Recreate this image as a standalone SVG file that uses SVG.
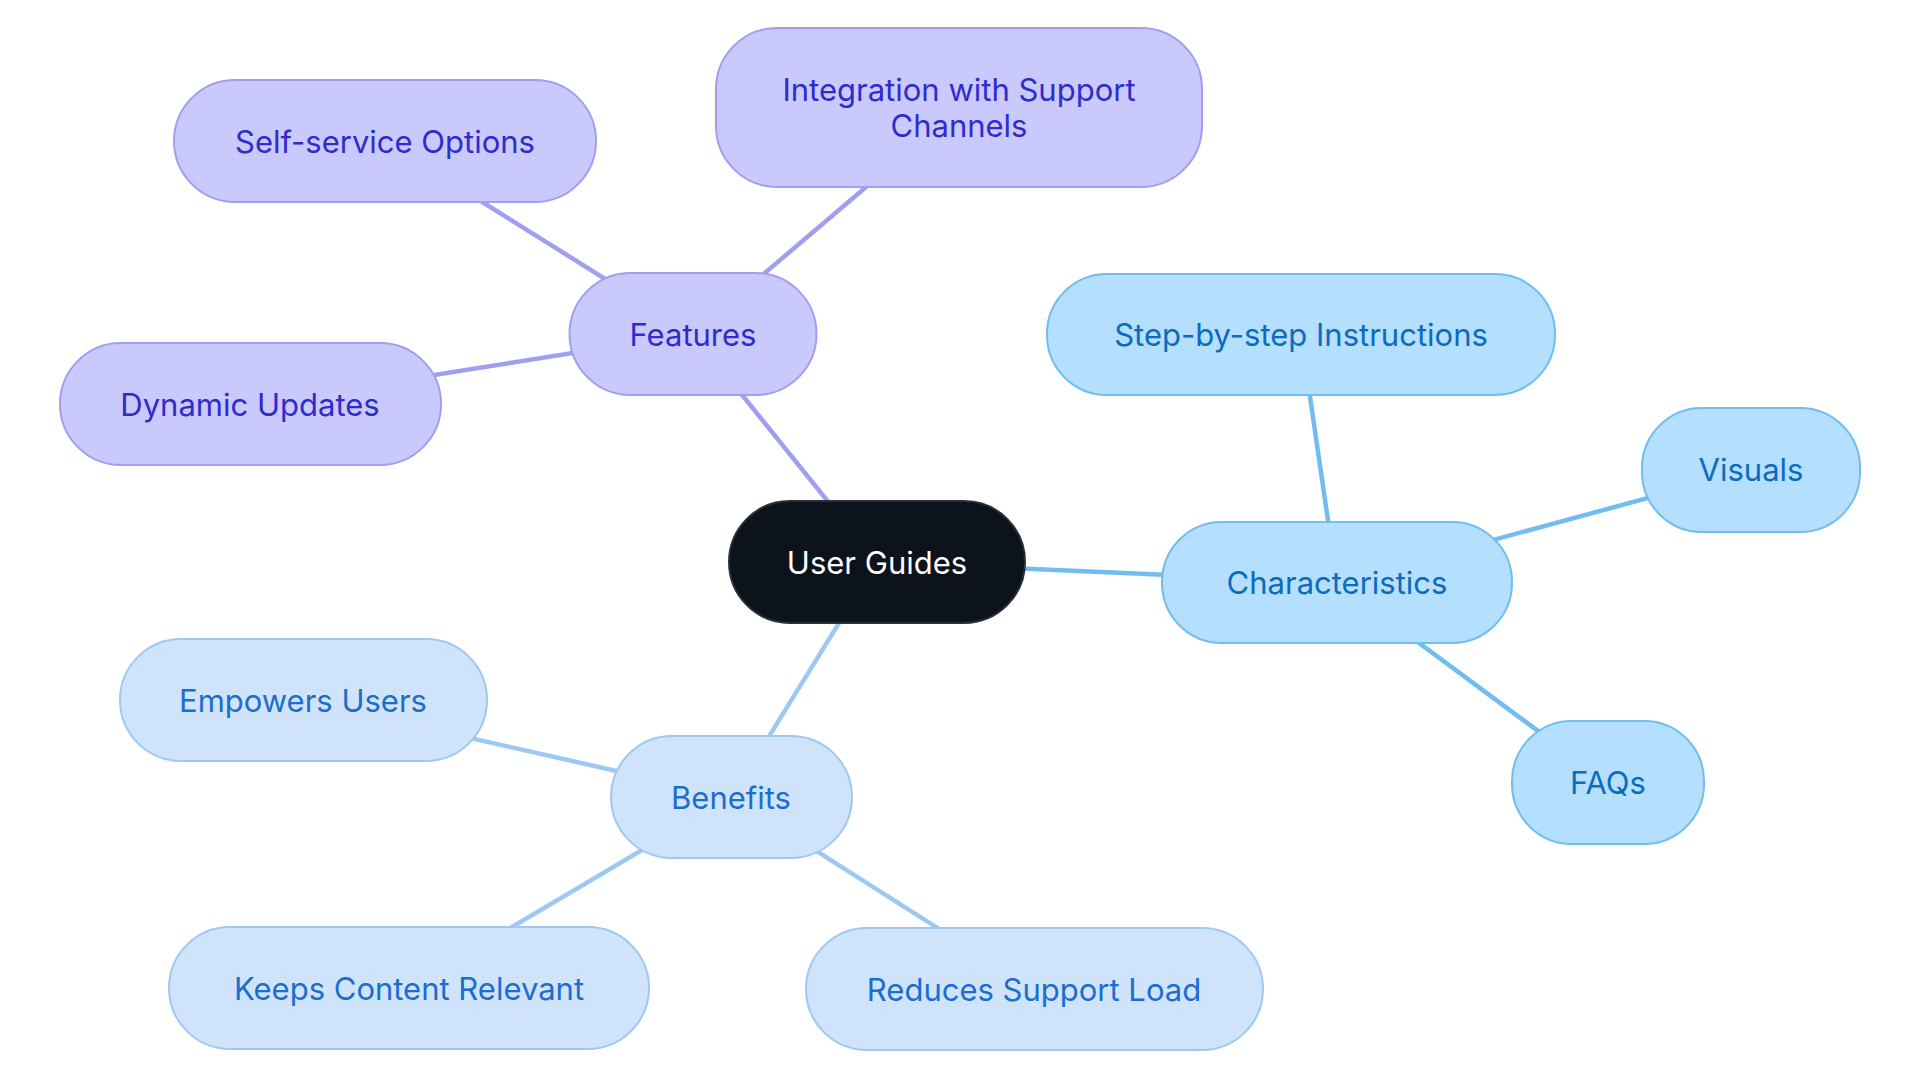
<svg xmlns="http://www.w3.org/2000/svg" width="1920" height="1083" viewBox="0 0 1920 1083">
<style>
text{font-family:Inter,"Noto Sans","Liberation Sans",sans-serif;font-size:31px;text-anchor:middle;dominant-baseline:central}
.f rect{fill:#c9c9fd;stroke:#a09ef0;stroke-width:2}
.f text{fill:#2f2bcc}
.c rect{fill:#b4dffe;stroke:#72bdef;stroke-width:2}
.c text{fill:#0b6bbf}
.b rect{fill:#cfe4fb;stroke:#9ec8f2;stroke-width:2}
.b text{fill:#1b6dcf}
.lf{stroke:#a09ef0}.lc{stroke:#72bdef}.lb{stroke:#9ec8f2}
#edges line{stroke-width:4.5}
</style>
<rect width="1920" height="1083" fill="#fff"/>
<g id="edges">
<line class="lf" x1="876.7" y1="562" x2="693" y2="334"/>
<line class="lf" x1="693" y1="334" x2="385" y2="141"/>
<line class="lf" x1="693" y1="334" x2="959.4" y2="107.7"/>
<line class="lf" x1="693" y1="334" x2="250.4" y2="404"/>
<line class="lc" x1="876.7" y1="562" x2="1337" y2="582.3"/>
<line class="lc" x1="1337" y1="582.3" x2="1301" y2="335"/>
<line class="lc" x1="1337" y1="582.3" x2="1751" y2="470"/>
<line class="lc" x1="1337" y1="582.3" x2="1607.5" y2="782.4"/>
<line class="lb" x1="876.7" y1="562" x2="731.6" y2="797"/>
<line class="lb" x1="731.6" y1="797" x2="303.7" y2="700.4"/>
<line class="lb" x1="731.6" y1="797" x2="409" y2="988"/>
<line class="lb" x1="731.6" y1="797" x2="1034" y2="989.3"/>
</g>
<g id="user-guides"><rect x="729" y="501" width="296" height="122" rx="61" fill="#0d131b" stroke="#2a3038" stroke-width="2"/><text x="877" y="562" fill="#fff">User Guides</text></g>
<g id="features" class="f"><rect x="569.5" y="273" width="247" height="122" rx="61"/><text x="693" y="334">Features</text></g>
<g id="self-service" class="f"><rect x="174" y="80" width="422" height="122" rx="61"/><text x="385" y="141">Self-service Options</text></g>
<g id="integration" class="f"><rect x="716" y="28" width="486" height="159" rx="61"/><text x="959" y="89">Integration with Support</text><text x="959" y="125">Channels</text></g>
<g id="dynamic" class="f"><rect x="60" y="343" width="381" height="122" rx="61"/><text x="250" y="404">Dynamic Updates</text></g>
<g id="characteristics" class="c"><rect x="1162" y="522" width="350" height="121" rx="60"/><text x="1337" y="582">Characteristics</text></g>
<g id="step" class="c"><rect x="1047" y="274" width="508" height="121" rx="60"/><text x="1301" y="334">Step-by-step Instructions</text></g>
<g id="visuals" class="c"><rect x="1642" y="408" width="218" height="124" rx="60"/><text x="1751" y="469">Visuals</text></g>
<g id="faqs" class="c"><rect x="1512" y="721" width="192" height="123" rx="60"/><text x="1608" y="782">FAQs</text></g>
<g id="benefits" class="b"><rect x="611" y="736" width="241" height="122" rx="61"/><text x="731" y="797">Benefits</text></g>
<g id="empowers" class="b"><rect x="120" y="639" width="367" height="122" rx="61"/><text x="303" y="700">Empowers Users</text></g>
<g id="keeps" class="b"><rect x="169" y="927" width="480" height="122" rx="61"/><text x="409" y="988">Keeps Content Relevant</text></g>
<g id="reduces" class="b"><rect x="806" y="928" width="457" height="122" rx="61"/><text x="1034" y="989">Reduces Support Load</text></g>
</svg>
